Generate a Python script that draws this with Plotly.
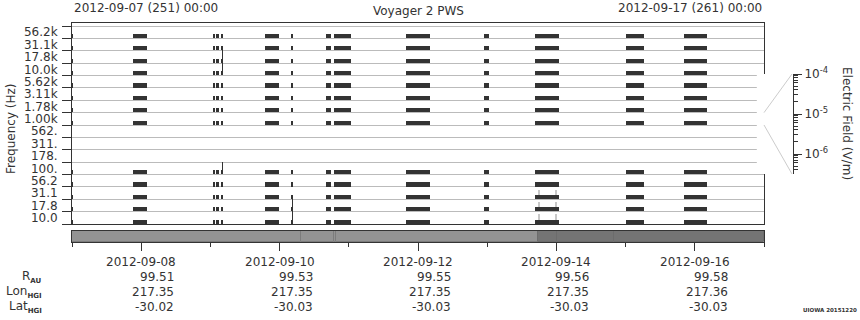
import plotly.graph_objects as go
import pandas as pd

W, H = 860, 320
FONT = "DejaVu Sans"
INK = "#333333"

# ---------------- data ----------------
channels = ["10.0", "17.8", "31.1", "56.2", "100.", "178.", "311.", "562.",
            "1.00k", "1.78k", "3.11k", "5.62k", "10.0k", "17.8k", "31.1k", "56.2k"]
active_channels = ["10.0", "17.8", "31.1", "56.2", "100.",
                   "1.00k", "1.78k", "3.11k", "5.62k", "10.0k", "17.8k", "31.1k", "56.2k"]

burst_start = ["2012-09-07 00:00", "2012-09-07 21:16", "2012-09-09 01:10", "2012-09-09 01:57",
               "2012-09-09 04:00", "2012-09-09 18:56", "2012-09-10 04:15", "2012-09-10 16:06",
               "2012-09-10 18:52", "2012-09-11 19:51", "2012-09-12 22:54", "2012-09-13 16:35",
               "2012-09-15 00:09", "2012-09-15 20:15"]
burst_end = ["2012-09-07 00:20", "2012-09-08 01:54", "2012-09-09 01:30", "2012-09-09 02:59",
             "2012-09-09 04:20", "2012-09-09 23:47", "2012-09-10 04:35", "2012-09-10 17:50",
             "2012-09-11 00:46", "2012-09-12 04:09", "2012-09-13 00:37", "2012-09-14 00:55",
             "2012-09-15 06:23", "2012-09-16 04:13"]

spike_start = ["2012-09-09 04:05", "2012-09-09 04:05", "2012-09-09 04:05",
               "2012-09-10 04:18", "2012-09-10 04:18",
               "2012-09-13 17:55", "2012-09-13 17:55", "2012-09-13 17:55",
               "2012-09-13 23:45", "2012-09-13 23:45", "2012-09-13 23:45"]
spike_end = ["2012-09-09 04:20", "2012-09-09 04:20", "2012-09-09 04:20",
             "2012-09-10 04:33", "2012-09-10 04:33",
             "2012-09-13 18:08", "2012-09-13 18:08", "2012-09-13 18:08",
             "2012-09-13 23:58", "2012-09-13 23:58", "2012-09-13 23:58"]
spike_channel = ["17.8k", "10.0k", "100.",
                 "17.8", "10.0",
                 "31.1", "17.8", "10.0",
                 "31.1", "17.8", "10.0"]
spike_level = [1, 1, 1, 1, 1, 0, 0, 0, 0, 0, 0]

strip_start = ["2012-09-07 00:00", "2012-09-10 07:32", "2012-09-10 18:58", "2012-09-10 19:34",
               "2012-09-13 17:31", "2012-09-14 00:06", "2012-09-14 20:05"]
strip_end = ["2012-09-10 07:32", "2012-09-10 18:58", "2012-09-10 19:34", "2012-09-13 17:31",
             "2012-09-14 00:06", "2012-09-14 20:05", "2012-09-17 00:00"]
strip_mode = [1, 1, 1, 1, 2, 2, 2]

t_begin, t_end = "2012-09-07 00:00", "2012-09-17 00:00"
header_left = "2012-09-07 (251) 00:00"
header_right = "2012-09-17 (261) 00:00"

label_dates = ["2012-09-08", "2012-09-10", "2012-09-12", "2012-09-14", "2012-09-16"]
r_au = ["99.51", "99.53", "99.55", "99.56", "99.58"]
lon_hgi = ["217.35", "217.35", "217.35", "217.35", "217.36"]
lat_hgi = ["-30.02", "-30.03", "-30.03", "-30.03", "-30.03"]
all_days = [d.strftime("%Y-%m-%d") for d in pd.date_range("2012-09-07", "2012-09-17", freq="D")]

cbar_major = [1e-4, 1e-5, 1e-6]
cbar_major_text = ["10<sup>-4</sup>", "10<sup>-5</sup>", "10<sup>-6</sup>"]
cbar_min_exp, cbar_max_exp = -6.5, -4

# ---------------- helpers ----------------
def py(px):
    return 1 - px / H

def ms(a, b):
    return (pd.Timestamp(b) - pd.Timestamp(a)).total_seconds() * 1000.0

row_h = 0.33
n_rows = len(channels)
y_top = n_rows + 0.218
ch_idx = {c: i for i, c in enumerate(channels)}

fig = go.Figure()

# bursts
bx, bbase, by = [], [], []
for s, e in zip(burst_start, burst_end):
    for c in active_channels:
        bbase.append(s)
        bx.append(ms(s, e))
        by.append(ch_idx[c] + row_h / 2)
fig.add_trace(go.Bar(orientation="h", x=bx, base=bbase, y=by, width=row_h,
                     marker=dict(color=INK, line=dict(width=0)),
                     xaxis="x", yaxis="y", showlegend=False, hoverinfo="skip"))

# spikes: strong ones fill the row, weak ones reach partway up
spike_style = {1: (INK, 1.0), 0: ("#c8c8c8", 0.75)}
for lvl in (0, 1):
    col, frac = spike_style[lvl]
    sx, sb, sy = [], [], []
    for s, e, c, l in zip(spike_start, spike_end, spike_channel, spike_level):
        if l == lvl:
            sb.append(s)
            sx.append(ms(s, e))
            sy.append(ch_idx[c] + frac / 2)
    fig.add_trace(go.Bar(orientation="h", x=sx, base=sb, y=sy, width=frac,
                         marker=dict(color=col, line=dict(width=0)),
                         xaxis="x", yaxis="y", showlegend=False, hoverinfo="skip"))
# keep bursts on top of weak spikes
fig.add_trace(go.Bar(orientation="h", x=bx, base=bbase, y=by, width=row_h,
                     marker=dict(color=INK, line=dict(width=0)),
                     xaxis="x", yaxis="y", showlegend=False, hoverinfo="skip"))

# strip
strip_fill = {1: "#939393", 2: "#747474"}
strip_edge = {1: "#7c7c7c", 2: "#6c6c6c"}
for s, e, m in zip(strip_start, strip_end, strip_mode):
    fig.add_trace(go.Bar(orientation="h", x=[ms(s, e)], base=[s], y=[0.5], width=1.0,
                         marker=dict(color=strip_fill[m], line=dict(width=1, color=strip_edge[m])),
                         xaxis="x2", yaxis="y2", showlegend=False, hoverinfo="skip"))

# dummy for colour axis
fig.add_trace(go.Scatter(x=[0], y=[1e-5], mode="markers", marker=dict(opacity=0),
                         xaxis="x3", yaxis="y3", showlegend=False, hoverinfo="skip"))

x_dom = [72 / W, 764 / W]
y_dom = [py(224), py(23.3)]
y2_dom = [py(242.3), py(231)]
y3_dom = [py(174), py(74)]
x3_dom = [0.88, 793 / W]

cbar_minor = []
for ex in range(-7, -4):
    for k in range(2, 10):
        cbar_minor.append(k * 10 ** ex)

axis_font = dict(family=FONT, size=12, color=INK)

fig.update_layout(
    width=W, height=H, margin=dict(l=0, r=0, t=0, b=0, pad=0, autoexpand=False),
    paper_bgcolor="white", plot_bgcolor="white",
    barmode="overlay", bargap=0,
    font=axis_font,
    xaxis=dict(domain=x_dom, anchor="y", type="date", range=[t_begin, t_end],
               showline=True, mirror=True, linecolor=INK, linewidth=1, automargin=False,
               showticklabels=False, ticks="", showgrid=False, zeroline=False),
    yaxis=dict(domain=y_dom, anchor="x", range=[0, y_top], automargin=False,
               tickmode="array", tickvals=[i + 0.5 for i in range(n_rows)], ticktext=channels,
               ticks="outside", ticklen=11, tickcolor="rgba(0,0,0,0)",
               showline=True, mirror=True, linecolor=INK, linewidth=1,
               showgrid=False, zeroline=False, tickfont=axis_font,
               minor=dict(tickmode="array", tickvals=list(range(0, n_rows + 1)),
                          ticks="outside", ticklen=9, tickcolor=INK,
                          showgrid=True, gridcolor="#bbbbbb", gridwidth=1)),
    xaxis2=dict(domain=x_dom, anchor="y2", type="date", range=[t_begin, t_end],
                showline=True, mirror=True, linecolor=INK, linewidth=1, automargin=False,
                tickmode="array", tickvals=label_dates, ticks="outside", ticklen=8,
                tickcolor=INK, showticklabels=False, showgrid=False, zeroline=False,
                minor=dict(tickmode="array", tickvals=all_days, ticks="outside",
                           ticklen=4, tickcolor=INK, showgrid=False)),
    yaxis2=dict(domain=y2_dom, anchor="x2", range=[0, 1], showline=True, mirror=True,
                linecolor=INK, linewidth=1, ticks="", showticklabels=False, automargin=False,
                showgrid=False, zeroline=False),
    xaxis3=dict(domain=x3_dom, anchor="y3", visible=False, automargin=False),
    yaxis3=dict(domain=y3_dom, anchor="x3", side="right", type="log", automargin=False,
                range=[cbar_min_exp, cbar_max_exp], showline=True, linecolor=INK,
                linewidth=1, tickmode="array", tickvals=cbar_major, ticktext=cbar_major_text,
                ticks="outside", ticklen=8, tickcolor=INK, showgrid=False, zeroline=False,
                tickfont=axis_font,
                minor=dict(tickmode="array", tickvals=cbar_minor, ticks="outside",
                           ticklen=4, tickcolor=INK, showgrid=False)),
)

# connector lines from the 1.00k row to the colour axis
row = ch_idx["1.00k"]
def yrow(v):
    return y_dom[0] + (y_dom[1] - y_dom[0]) * v / y_top
for yr, yc in [(row + 1, y3_dom[1]), (row, y3_dom[0])]:
    fig.add_shape(type="line", xref="paper", yref="paper",
                  x0=x_dom[1], y0=yrow(yr), x1=x3_dom[1] - 1 / W, y1=yc,
                  line=dict(color="#cccccc", width=1))

ann = []
def A(**k):
    base = dict(showarrow=False, font=axis_font)
    base.update(k)
    ann.append(base)

A(text=header_left, xref="x", x=t_begin, xanchor="left", yref="paper", y=py(8), yanchor="middle")
A(text=header_right, xref="x", x=t_end, xanchor="right", yref="paper", y=py(8), yanchor="middle")
A(text="Voyager 2 PWS", xref="paper", x=(x_dom[0] + x_dom[1]) / 2, xanchor="center",
  yref="paper", y=py(11), yanchor="middle")
A(text="Frequency (Hz)", xref="paper", x=11 / W, xanchor="center", yref="paper",
  y=py(129), yanchor="middle", textangle=-90)
A(text="Electric Field (V/m)", xref="paper", x=847 / W, xanchor="center", yref="paper",
  y=py(123), yanchor="middle", textangle=90)

rows_px = [262, 277, 292, 307]
for d, r, lo, la in zip(label_dates, r_au, lon_hgi, lat_hgi):
    A(text=d, xref="x2", x=d, xanchor="center", yref="paper", y=py(rows_px[0]), yanchor="middle")
    for val, ypx in zip([r, lo, la], rows_px[1:]):
        A(text=val, xref="x2", x=d, xanchor="right", xshift=35, yref="paper", y=py(ypx),
          yanchor="middle")

SUB = '<sub><span style="font-size:7px"><b>%s</b></span></sub>'
row_names = ["R" + SUB % "AU", "Lon" + SUB % "HGI", "Lat" + SUB % "HGI"]
for nm, ypx in zip(row_names, rows_px[1:]):
    A(text=nm, xref="paper", x=44 / W, xanchor="right", yref="paper", y=py(ypx), yanchor="middle")

A(text="<b>UIOWA 20151220</b>", xref="paper", x=859 / W, xanchor="right", yref="paper",
  y=py(310), yanchor="middle", font=dict(family=FONT, size=5.5, color=INK))

fig.update_layout(annotations=ann)
fig.write_html("out.html")
